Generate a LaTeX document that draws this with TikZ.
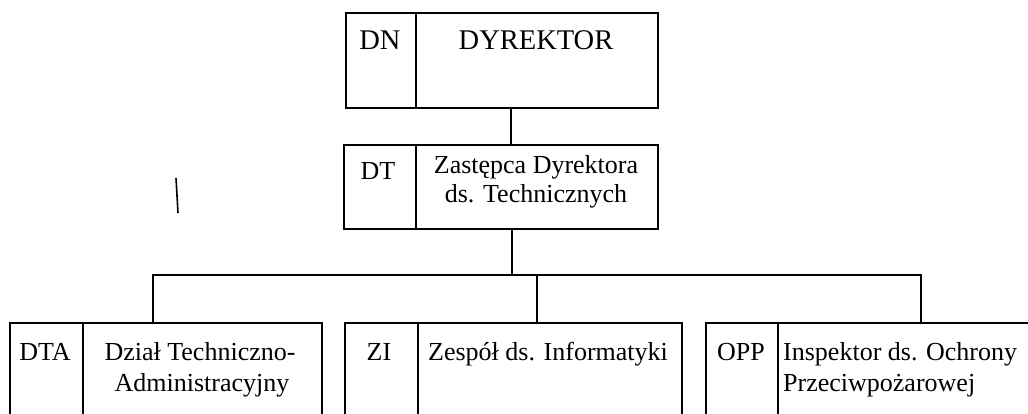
\documentclass[tikz,border=0pt]{standalone}
\usepackage{fontspec}
\setmainfont{Liberation Serif}
\begin{document}
\begin{tikzpicture}[x=1pt,y=-1pt,
  cell/.style={draw, line width=1.6pt, inner sep=0pt, anchor=north west},
  txt/.style={font=\fontsize{26}{30}\selectfont, anchor=base, inner sep=0pt},
  bigtxt/.style={font=\fontsize{28.5}{32}\selectfont, anchor=base, inner sep=0pt},
  txtl/.style={txt, anchor=base west},
  conn/.style={line width=1.6pt}]
\useasboundingbox (0,0) rectangle (1028,414);
\clip (0,0) rectangle (1028,414);
% top box
\node[cell, minimum width=70pt, minimum height=95pt] (dn) at (345,12) {};
\node[cell, minimum width=242pt, minimum height=95pt] (dyr) at (415,12) {};
% deputy box
\node[cell, minimum width=72pt, minimum height=84pt] (dt) at (343,144) {};
\node[cell, minimum width=242pt, minimum height=84pt] (zdt) at (415,144) {};
% bottom boxes
\node[cell, minimum width=73pt, minimum height=110pt] (dta) at (9,322) {};
\node[cell, minimum width=239pt, minimum height=110pt] (dtc) at (82,322) {};
\node[cell, minimum width=73pt, minimum height=110pt] (zi) at (344,322) {};
\node[cell, minimum width=264pt, minimum height=110pt] (zic) at (417,322) {};
\node[cell, minimum width=72pt, minimum height=110pt] (opp) at (705,322) {};
\node[cell, minimum width=263pt, minimum height=110pt] (oppc) at (777,322) {};
% connectors
\coordinate (c1) at (511,0);
\coordinate (c2) at (512,0);
\coordinate (c3) at (537,0);
\coordinate (busL) at (153,275);
\coordinate (busR) at (921,275);
\draw[conn] (dyr.south -| c1) -- (zdt.north -| c1);
\draw[conn] (zdt.south -| c2) -- (c2 |- busL);
\draw[conn] (dtc.north -| busL) -- (busL) -- (busR) -- (oppc.north -| busR);
\draw[conn] (busL -| c3) -- (zic.north -| c3);
% stray mark
\draw[conn] (176,178) -- (178,213);
% texts
\node[bigtxt] (tdn) at (380,50) {DN};
\node[bigtxt] (tdyr) at (536,50) {DYREKTOR};
\node[txt] (tdt) at (378,180) {DT};
\node[txt] (tz1) at (536,174) {Zastępca Dyrektora};
\node[txt] (tz2) at (536,203) {ds. Technicznych};
\node[txt] (tdta) at (45,360) {DTA};
\node[txt] (td1) at (200,360) {Dział Techniczno-};
\node[txt] (td2) at (202,391) {Administracyjny};
\node[txt] (tzi) at (379,360) {ZI};
\node[txtl] (tzic) at (428,360) {Zespół ds. Informatyki};
\node[txt] (topp) at (741,360) {OPP};
\node[txtl] (to1) at (783,360) {Inspektor ds. Ochrony};
\node[txtl] (to2) at (783,391) {Przeciwpożarowej};
\end{tikzpicture}
\end{document}
